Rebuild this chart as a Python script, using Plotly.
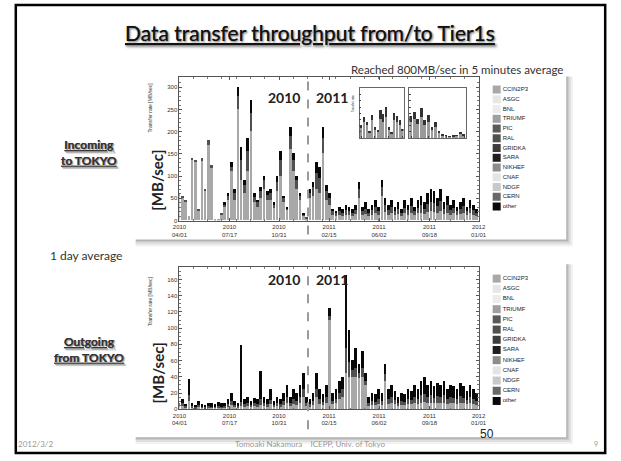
import plotly.graph_objects as go
import pandas as pd

# ---------------- data ----------------
sites = ["CCIN2P3", "ASGC", "BNL", "TRIUMF", "PIC", "RAL", "GRIDKA",
         "SARA", "NIKHEF", "CNAF", "NDGF", "CERN", "other"]
site_colors = ["#a8a8a8", "#e6e6e6", "#ececec", "#a0a0a0", "#5a5a5a", "#505050",
               "#3c3c3c", "#1e1e1e", "#8c8c8c", "#e4e4e4", "#c8c8c8", "#686868", "#080808"]

week_start = "2010-04-01"
n_weeks = 92
weeks = pd.date_range(week_start, periods=n_weeks, freq="7D")

x_tick_dates = ["2010-04-01", "2010-07-17", "2010-10-31", "2011-02-15",
                "2011-06-02", "2011-09-18", "2012-01-01"]
x_tick_text = ["2010<br>04/01", "2010<br>07/17", "2010<br>10/31", "2011<br>02/15",
               "2011<br>06/02", "2011<br>09/18", "2012<br>01/01"]
year_boundary = "2011-01-01"

# Incoming to TOKYO (MB/sec), weekly peaks of 1-day averages
in_light = [55, 50, 42, 10, 135, 130, 22, 132, 65, 170, 118, 3, 2,
            12, 30, 45, 110, 45, 250, 90, 60, 110, 200, 40, 30, 50, 70, 45, 45, 28, 65, 100, 40,
            22, 160, 110, 70, 45, 10, 4, 50, 55, 70, 60, 150, 45, 35, 12, 10,
            12, 10, 12, 11, 10, 13, 50, 12, 14, 10, 12, 15, 11, 55, 18, 12, 15, 11, 14, 10,
            15, 12, 16, 11, 15, 17, 13, 18, 20, 19, 16, 20, 13, 17, 12, 15, 11, 14, 16, 11,
            15, 12, 10]
in_mid = [5, 5, 3, 0, 5, 5, 3, 8, 5, 10, 7, 0, 0,
          3, 5, 10, 10, 15, 30, 45, 20, 45, 40, 12, 10, 15, 20, 12, 15, 8, 20, 35, 10,
          5, 30, 25, 20, 10, 3, 1, 12, 20, 35, 35, 35, 20, 15, 8, 5,
          8, 7, 10, 9, 7, 10, 20, 8, 12, 7, 10, 14, 9, 20, 15, 10, 14, 9, 12, 7,
          13, 10, 15, 9, 13, 16, 12, 18, 20, 20, 15, 22, 12, 16, 10, 13, 9, 12, 15, 9,
          13, 10, 7]
in_dark = [0, 0, 0, 0, 0, 0, 0, 0, 0, 0, 0, 0, 0,
           0, 5, 5, 10, 10, 20, 30, 10, 30, 30, 8, 5, 10, 10, 8, 10, 4, 15, 20, 5,
           3, 20, 15, 10, 5, 2, 0, 8, 10, 25, 25, 25, 15, 10, 5, 5,
           10, 8, 13, 10, 8, 12, 15, 10, 14, 8, 13, 16, 10, 15, 17, 13, 16, 10, 14, 8,
           17, 13, 19, 10, 17, 22, 15, 24, 30, 26, 19, 28, 15, 22, 13, 17, 10, 14, 19, 10,
           17, 13, 8]

# Outgoing from TOKYO (MB/sec)
out_light = [3, 4, 2, 10, 2, 1, 3, 2, 1, 2, 2, 2, 2, 2, 2, 3, 5, 3, 2,
             4, 3, 4, 3, 4, 3, 5, 4, 3, 6, 3, 4, 3, 5, 7, 4, 6, 5, 7, 15,
             4, 3, 5, 15, 6, 5, 8, 110, 6, 7,
             12, 15, 45, 40, 40, 40, 38, 40, 30,
             4, 5, 5, 6, 5, 35, 6, 7, 6, 4, 5, 5, 6, 6, 7, 6, 8, 9, 7, 8,
             7, 8, 7, 8, 6, 7, 7, 6, 8, 7, 6, 7, 6, 5]
out_mid = [2, 3, 2, 7, 2, 1, 2, 1, 1, 2, 1, 1, 2, 1, 2, 3, 5, 2, 2,
           5, 3, 3, 2, 3, 3, 7, 3, 3, 5, 2, 3, 3, 5, 8, 3, 6, 5, 8, 10,
           3, 3, 5, 10, 6, 4, 7, 5, 4, 6,
           8, 10, 30, 18, 8, 10, 7, 10, 5,
           3, 5, 4, 6, 5, 8, 6, 8, 5, 3, 5, 4, 6, 5, 8, 6, 9, 10, 8, 9,
           7, 8, 8, 9, 6, 8, 7, 6, 8, 7, 5, 8, 6, 5]
out_dark = [3, 5, 2, 20, 4, 3, 5, 3, 3, 4, 4, 3, 5, 4, 4, 6, 10, 5, 4,
            70, 6, 8, 5, 7, 6, 35, 8, 6, 14, 5, 8, 6, 10, 15, 8, 13, 10, 15, 20,
            8, 6, 10, 20, 13, 9, 15, 10, 10, 12,
            15, 15, 90, 40, 12, 25, 10, 22, 10,
            8, 10, 9, 13, 10, 12, 13, 15, 11, 8, 10, 9, 13, 11, 15, 13, 18, 21, 15, 18,
            14, 16, 15, 18, 13, 15, 14, 13, 16, 14, 11, 15, 13, 10]

# inset: 5 minutes average (MB/sec)
inset_bins = list(range(16))
inset_left_light = [150, 250, 200, 80, 280, 120, 90, 300, 260, 330, 120, 60, 280, 250, 200, 100]
inset_left_dark = [50, 80, 60, 30, 90, 50, 40, 150, 120, 160, 60, 30, 120, 100, 80, 40]
inset_right_light = [250, 300, 220, 330, 200, 260, 120, 180, 80, 40, 30, 20, 25, 30, 60, 40]
inset_right_dark = [100, 120, 80, 150, 90, 100, 60, 70, 20, 10, 10, 5, 10, 10, 20, 10]

for arr in (in_light, in_mid, in_dark, out_light, out_mid, out_dark):
    assert len(arr) == n_weeks, len(arr)

# ---------------- geometry helpers ----------------
W, H = 621, 461
def PX(x):
    return x / W
def PY(y):
    return 1 - y / H

FONT = "Lato"
AX_FONT = "Liberation Sans"
LIGHT_C, MID_C, DARK_C = site_colors[0], site_colors[5], site_colors[12]
week_ms = 7 * 24 * 3600 * 1000

fig = go.Figure()

def add_main(xa, ya, light, mid, dark):
    for vals, name, col in ((light, "CCIN2P3", LIGHT_C), (mid, "RAL", MID_C), (dark, "other", DARK_C)):
        fig.add_trace(go.Bar(x=weeks, y=vals, name=name, marker=dict(color=col, line=dict(width=0)),
                             width=week_ms * 0.8, xaxis=xa, yaxis=ya, showlegend=False))

add_main("x", "y", in_light, in_mid, in_dark)
add_main("x2", "y2", out_light, out_mid, out_dark)

# inset
for xa, ya, lt, dk in (("x3", "y3", inset_left_light, inset_left_dark),
                       ("x4", "y4", inset_right_light, inset_right_dark)):
    fig.add_trace(go.Bar(x=inset_bins, y=lt, marker=dict(color="#9a9a9a", line=dict(width=0)),
                         width=0.8, xaxis=xa, yaxis=ya, showlegend=False))
    fig.add_trace(go.Bar(x=inset_bins, y=dk, marker=dict(color="#333333", line=dict(width=0)),
                         width=0.8, xaxis=xa, yaxis=ya, showlegend=False))

# custom legends (one per panel)
for xa, ya in (("x5", "y5"), ("x6", "y6")):
    fig.add_trace(go.Scatter(x=[0] * len(sites), y=sites, mode="markers+text", text=sites,
                             textposition="middle right",
                             textfont=dict(family=AX_FONT, size=6, color="#222"),
                             marker=dict(symbol="square", size=8, color=site_colors,
                                         line=dict(width=0)),
                             cliponaxis=False, xaxis=xa, yaxis=ya, showlegend=False,
                             hoverinfo="skip"))

main_x = dict(type="date", range=["2010-04-01", "2012-01-01"], domain=[PX(176), PX(483)],
              tickvals=x_tick_dates, ticktext=x_tick_text, ticks="inside", ticklen=3,
              tickcolor="#555", showline=True, linecolor="#555", linewidth=1, mirror="ticks",
              showgrid=False, zeroline=False,
              tickfont=dict(family=AX_FONT, size=6, color="#333"),
              minor=dict(ticks="inside", ticklen=1.5, dtick="M1", tickcolor="#777"))
main_y = dict(ticks="inside", ticklen=3, tickcolor="#555", showline=True, linecolor="#555",
              linewidth=1, mirror="ticks", showgrid=False, zeroline=False,
              tickfont=dict(family=AX_FONT, size=6, color="#333"))

fig.update_layout(
    xaxis=dict(main_x, anchor="y"),
    yaxis=dict(main_y, anchor="x", domain=[PY(222), PY(78)], range=[0, 322], dtick=50,
               minor=dict(ticks="inside", ticklen=1.5, dtick=10, tickcolor="#777")),
    xaxis2=dict(main_x, anchor="y2"),
    yaxis2=dict(main_y, anchor="x2", domain=[PY(412), PY(269)], range=[0, 175], dtick=20,
                minor=dict(ticks="inside", ticklen=1.5, dtick=5, tickcolor="#777")),
    xaxis3=dict(anchor="y3", domain=[PX(361), PX(406)], range=[-0.5, 15.5], showline=True,
                linecolor="#666", linewidth=0.6, mirror=True, ticks="inside", ticklen=2,
                showticklabels=False, showgrid=False, zeroline=False),
    yaxis3=dict(anchor="x3", domain=[PY(139), PY(89)], range=[0, 800], showline=True,
                linecolor="#666", linewidth=0.6, mirror=True, ticks="inside", ticklen=2,
                dtick=100, showticklabels=False, showgrid=False, zeroline=False),
    xaxis4=dict(anchor="y4", domain=[PX(412), PX(470)], range=[-0.5, 15.5], showline=True,
                linecolor="#666", linewidth=0.6, mirror=True, ticks="inside", ticklen=2,
                showticklabels=False, showgrid=False, zeroline=False),
    yaxis4=dict(anchor="x4", domain=[PY(139), PY(89)], range=[0, 800], showline=True,
                linecolor="#666", linewidth=0.6, mirror=True, ticks="inside", ticklen=2,
                dtick=100, showticklabels=False, showgrid=False, zeroline=False),
    xaxis5=dict(anchor="y5", domain=[PX(494), PX(570)], range=[-1, 9], visible=False),
    yaxis5=dict(anchor="x5", domain=[PY(220), PY(78)], autorange="reversed",
                type="category", visible=False),
    xaxis6=dict(anchor="y6", domain=[PX(494), PX(570)], range=[-1, 9], visible=False),
    yaxis6=dict(anchor="x6", domain=[PY(416), PY(268)], autorange="reversed",
                type="category", visible=False),
    barmode="stack", bargap=0,
    width=W, height=H, margin=dict(l=0, r=0, t=0, b=0),
    paper_bgcolor="white", plot_bgcolor="white", showlegend=False,
)

shapes = []
# slide border
shapes.append(dict(type="rect", xref="paper", yref="paper", x0=PX(8), x1=PX(613),
                   y0=PY(456), y1=PY(5), line=dict(color="black", width=2.5), layer="below"))
# panels with shadow
for (x0, y0, x1, y1) in ((130, 75, 573, 241), (130, 264, 573, 440)):
    for k, op in ((7, 0.05), (5, 0.07), (3, 0.09), (1.5, 0.12)):
        shapes.append(dict(type="rect", xref="paper", yref="paper",
                           x0=PX(x0 + 1), x1=PX(x1 + k), y0=PY(y1 + k), y1=PY(y0 + 2),
                           fillcolor="rgba(0,0,0,%s)" % op, line=dict(width=0), layer="below"))
    shapes.append(dict(type="rect", xref="paper", yref="paper", x0=PX(x0), x1=PX(x1),
                       y0=PY(y1), y1=PY(y0), fillcolor="white", line=dict(width=0),
                       layer="below"))
# year boundary dashed lines
for xa, (ya0, ya1) in (("x", (80, 236)), ("x2", (272, 432))):
    shapes.append(dict(type="line", xref=xa, yref="paper", x0=year_boundary, x1=year_boundary,
                       y0=PY(ya1), y1=PY(ya0), line=dict(color="#9a9a9a", width=2, dash="dash"),
                       layer="above"))
fig.update_layout(shapes=shapes)

ann = []
def text(x, y, s, size, color="#222", bold=False, xanchor="center", angle=0, family=FONT,
         shadow=None):
    f = dict(family=family, size=size, color=color)
    if shadow:
        f["shadow"] = shadow
    ann.append(dict(x=PX(x), y=PY(y), xref="paper", yref="paper", text=("<b>%s</b>" % s) if bold else s,
                    showarrow=False, font=f, xanchor=xanchor, yanchor="middle",
                    textangle=angle))

text(310, 33, "<u>Data transfer throughput from/to Tier1s</u>", 21, "#111",
     shadow="1px 1px 2px #999")
text(572, 70, "Reached 800MB/sec in 5 minutes average", 11.5, "#333", xanchor="right")
text(83, 154, "<u>Incoming</u><br><u>to TOKYO</u>", 12, "#333", bold=True, shadow="1px 1px 1px #aaa")
text(80, 257, "1 day average", 12, "#333")
text(83, 352, "<u>Outgoing</u><br><u>from TOKYO</u>", 12, "#333", bold=True, shadow="1px 1px 1px #aaa")
for yy in (98, 281):
    text(283, yy, "2010", 14, "#222", bold=True)
    text(333, yy, "2011", 14, "#222", bold=True)
text(146, 108, "Transfer rate [MB/sec]", 5, "#333", angle=-90, family=AX_FONT)
text(146, 303, "Transfer rate [MB/sec]", 5, "#333", angle=-90, family=AX_FONT)
text(153, 182, "[MB/sec]", 15, "#222", bold=True, angle=-90)
text(153, 376, "[MB/sec]", 15, "#222", bold=True, angle=-90)
text(354, 104, "Transfer rate", 3, "#333", angle=-90, family=AX_FONT)
text(28, 447, "2012/3/2", 8, "#999")
text(310, 447, "Tomoaki Nakamura &nbsp;&nbsp; ICEPP, Univ. of Tokyo", 8, "#999")
text(492, 437, "50", 12, "#222", family="Liberation Sans")
text(604, 447, "9", 7, "#999")
fig.update_layout(annotations=ann)

fig.write_html("out.html")
